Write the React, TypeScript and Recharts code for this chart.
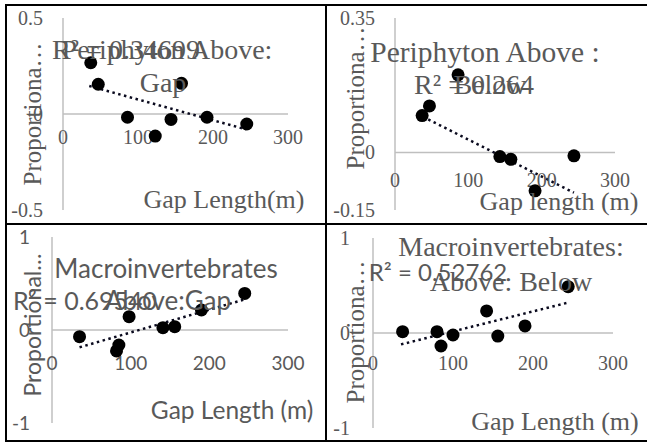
import React from "react";
import {
  ReferenceDot,
  ReferenceLine,
  Scatter,
  ScatterChart,
  XAxis,
  YAxis,
} from "recharts";

// Valores (longitud de hueco en m / proporción).
const periAboveGapX = [37, 47, 86, 123, 144, 158, 192, 245];
const periAboveGapY = [0.267, 0.155, -0.017, -0.115, -0.028, 0.16, -0.017, -0.052];
const periAboveGapTrend = [
  { x: 35, y: 0.146 },
  { x: 244, y: -0.08 },
];

const periAboveBelowX = [37, 47, 86, 143, 158, 191, 244];
const periAboveBelowY = [0.096, 0.121, 0.202, -0.011, -0.018, -0.1, -0.009];
const periAboveBelowTrend = [
  { x: 38, y: 0.093 },
  { x: 244, y: -0.105 },
];

const macroAboveGapX = [35, 82, 85, 98, 141, 156, 190, 245];
const macroAboveGapY = [-0.072, -0.225, -0.161, 0.143, 0.025, 0.036, 0.215, 0.393];
const macroAboveGapTrend = [
  { x: 35, y: -0.186 },
  { x: 245, y: 0.329 },
];

const macroAboveBelowX = [37, 80, 85, 100, 142, 156, 190, 244];
const macroAboveBelowY = [0.014, 0.014, -0.137, -0.021, 0.232, -0.032, 0.074, 0.488];
const macroAboveBelowTrend = [
  { x: 35, y: -0.12 },
  { x: 244, y: 0.32 },
];

const xTicks = [0, 100, 200, 300];
const periGapYTicks = [-0.5, 0, 0.5];
const periBelowYTicks = [-0.15, 0, 0.35];
const macroYTicks = [-1, 0, 1];

const SERIF = "Liberation Serif, serif";
const SANS = "Lato, sans-serif";
const GREY = "#595959";
const AXIS = "#bfbfbf";

type Pt = { x: number; y: number };

function toPoints(xs: number[], ys: number[]): Pt[] {
  return xs.map((x, i) => ({ x, y: ys[i] }));
}

type Note = {
  text: string;
  cx: number;
  cy: number;
  size: number;
  font: string;
  rotate?: boolean;
};

type PanelProps = {
  left: number;
  top: number;
  width: number;
  height: number;
  margin: { top: number; right: number; bottom: number; left: number };
  yWidth: number;
  yDomain: [number, number];
  yTicks: number[];
  yTickGap: number;
  points: Pt[];
  trend: Pt[];
  tickFont: string;
  tickSize: number;
  xTickDrop: number;
};

function Panel(p: PanelProps) {
  return (
    <div style={{ position: "absolute", left: p.left, top: p.top }}>
      <ScatterChart width={p.width} height={p.height} margin={p.margin}>
        <XAxis type="number" dataKey="x" domain={[0, 300]} ticks={xTicks} hide />
        <YAxis
          type="number"
          dataKey="y"
          domain={p.yDomain}
          ticks={p.yTicks}
          width={p.yWidth}
          axisLine={{ stroke: AXIS, strokeWidth: 1.5 }}
          tickLine={false}
          tickSize={0}
          tickMargin={p.yTickGap}
          interval={0}
          tick={(t: any) => (
            <text
              x={t.x}
              y={t.y}
              dy="0.35em"
              textAnchor="end"
              fill={GREY}
              style={{ fontFamily: p.tickFont, fontSize: p.tickSize }}
            >
              {t.payload.value}
            </text>
          )}
        />
        <ReferenceLine y={0} stroke={AXIS} strokeWidth={1.5} />
        {xTicks.map((v) => (
          <ReferenceDot
            key={v}
            x={v}
            y={0}
            r={0}
            shape={(s: any) => (
              <text
                x={s.cx}
                y={s.cy + p.xTickDrop}
                dy="0.35em"
                textAnchor="middle"
                fill={GREY}
                style={{ fontFamily: p.tickFont, fontSize: p.tickSize }}
              >
                {v}
              </text>
            )}
          />
        ))}
        <Scatter
          data={p.points}
          isAnimationActive={false}
          shape={(s: any) => <circle cx={s.cx} cy={s.cy} r={6.5} fill="#000" />}
        />
        <ReferenceLine
          segment={p.trend}
          stroke="#0a0a1e"
          strokeWidth={2.5}
          strokeDasharray="2.5 3.5"
        />
      </ScatterChart>
    </div>
  );
}

const notes: Note[] = [
  { text: "R² = 0.34699", cx: 126, cy: 50, size: 28, font: SERIF },
  { text: "Periphyton Above:", cx: 167, cy: 50, size: 28, font: SERIF },
  { text: "Gap", cx: 163, cy: 83, size: 28, font: SERIF },
  { text: "Proportiona…", cx: 32, cy: 114, size: 25, font: SERIF, rotate: true },
  { text: "Gap Length(m)", cx: 224, cy: 200, size: 26, font: SERIF },

  { text: "Periphyton Above :", cx: 485, cy: 53, size: 29.5, font: SERIF },
  { text: "R² = 0.264", cx: 474, cy: 85, size: 28, font: SERIF },
  { text: "Below", cx: 490, cy: 85, size: 28, font: SERIF },
  { text: "Proportiona…", cx: 355, cy: 98, size: 25, font: SERIF, rotate: true },
  { text: "Gap length (m)", cx: 559, cy: 202, size: 26, font: SERIF },

  { text: "Macroinvertebrates", cx: 166, cy: 268, size: 26, font: SANS },
  { text: "Above:Gap", cx: 168, cy: 300, size: 26, font: SANS },
  { text: "R² = 0.69540", cx: 85, cy: 300, size: 25, font: SANS },
  { text: "Proportional…", cx: 32, cy: 325, size: 23, font: SANS, rotate: true },
  { text: "Gap Length (m)", cx: 232, cy: 410, size: 24.5, font: SANS },

  { text: "Macroinvertebrates:", cx: 511, cy: 247, size: 28, font: SERIF },
  { text: "Above: Below", cx: 511, cy: 282, size: 28, font: SERIF },
  { text: "R² = 0.52762", cx: 438, cy: 272, size: 24, font: SANS },
  { text: "Proportiona…", cx: 355, cy: 332, size: 25, font: SERIF, rotate: true },
  { text: "Gap Length (m)", cx: 555, cy: 422, size: 26, font: SERIF },
];

// Marco negro de la rejilla 2x2
function Frame() {
  return (
    <svg
      width={647}
      height={443}
      style={{ position: "absolute", left: 0, top: 0, pointerEvents: "none" }}
    >
      <g fill="#000">
        <rect x={5} y={4} width={642} height={2} />
        <rect x={5} y={440} width={642} height={2} />
        <rect x={5} y={4} width={2} height={438} />
        <rect x={325} y={4} width={2} height={438} />
        <rect x={5} y={223} width={642} height={2} />
      </g>
    </svg>
  );
}

export default function App() {
  return (
    <div
      style={{
        position: "absolute",
        left: 0,
        top: 0,
        width: 647,
        height: 443,
        overflow: "hidden",
        background: "#fff",
      }}
    >
      <Panel
        left={0}
        top={0}
        width={326}
        height={224}
        margin={{ top: 18, right: 38, bottom: 14, left: 0 }}
        yWidth={63}
        yDomain={[-0.5, 0.5]}
        yTicks={periGapYTicks}
        yTickGap={20}
        points={toPoints(periAboveGapX, periAboveGapY)}
        trend={periAboveGapTrend}
        tickFont={SERIF}
        tickSize={20}
        xTickDrop={23}
      />
      <Panel
        left={326}
        top={0}
        width={321}
        height={224}
        margin={{ top: 18, right: 32, bottom: 14, left: 0 }}
        yWidth={69}
        yDomain={[-0.15, 0.35]}
        yTicks={periBelowYTicks}
        yTickGap={20}
        points={toPoints(periAboveBelowX, periAboveBelowY)}
        trend={periAboveBelowTrend}
        tickFont={SERIF}
        tickSize={20}
        xTickDrop={28}
      />
      <Panel
        left={0}
        top={224}
        width={326}
        height={219}
        margin={{ top: 13, right: 38, bottom: 20, left: 0 }}
        yWidth={52}
        yDomain={[-1, 1]}
        yTicks={macroYTicks}
        yTickGap={22}
        points={toPoints(macroAboveGapX, macroAboveGapY)}
        trend={macroAboveGapTrend}
        tickFont={SANS}
        tickSize={19}
        xTickDrop={33}
      />
      <Panel
        left={326}
        top={224}
        width={321}
        height={219}
        margin={{ top: 14, right: 34, bottom: 15, left: 0 }}
        yWidth={47}
        yDomain={[-1, 1]}
        yTicks={macroYTicks}
        yTickGap={23}
        points={toPoints(macroAboveBelowX, macroAboveBelowY)}
        trend={macroAboveBelowTrend}
        tickFont={SERIF}
        tickSize={20}
        xTickDrop={30}
      />
      {notes.map((n, i) => (
        <div
          key={i}
          style={{
            position: "absolute",
            left: n.cx,
            top: n.cy,
            transform: `translate(-50%, -50%)${n.rotate ? " rotate(-90deg)" : ""}`,
            fontFamily: n.font,
            fontSize: n.size,
            color: GREY,
            whiteSpace: "nowrap",
            lineHeight: 1,
          }}
        >
          {n.text}
        </div>
      ))}
      <Frame />
    </div>
  );
}
